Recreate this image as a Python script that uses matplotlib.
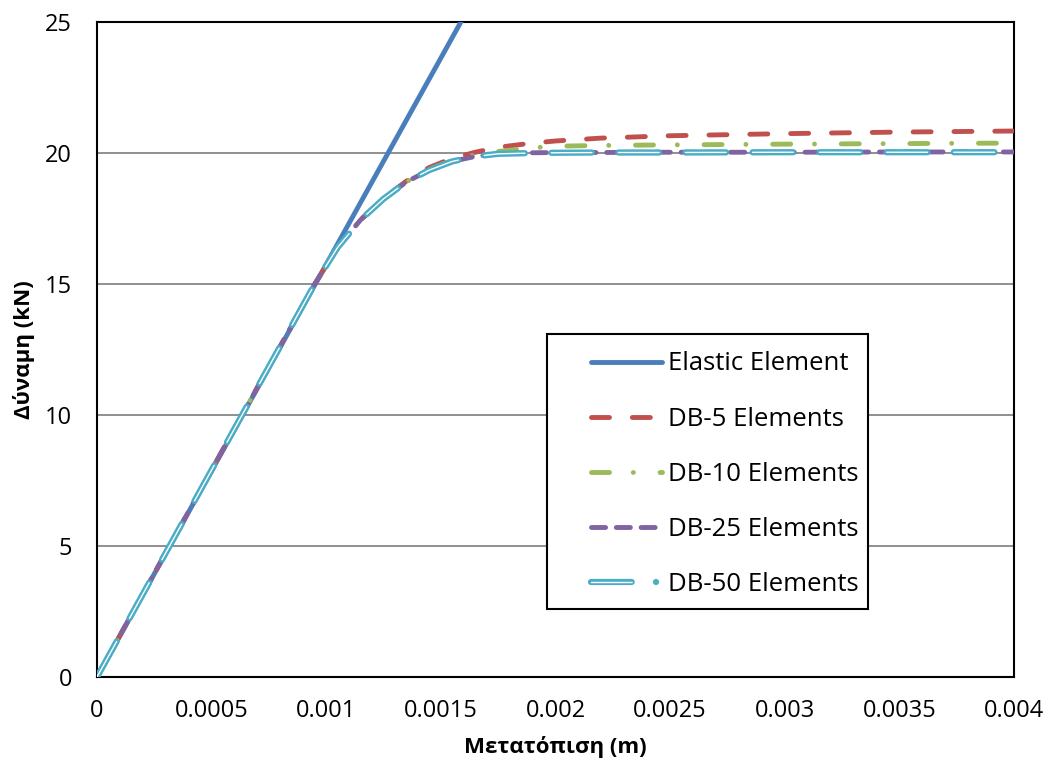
import numpy as np
import matplotlib
matplotlib.use("Agg")
import matplotlib.pyplot as plt
from matplotlib.lines import Line2D
from matplotlib.patches import Rectangle
from matplotlib.legend_handler import HandlerTuple

plt.rcParams['font.family'] = ['Open Sans', 'DejaVu Sans']

# displacement (m) and force (kN)
x_elastic = [0.0, 0.0016]
f_elastic = [0.0, 25.2]

x_db = [0.0, 0.0003, 0.0006, 0.00095, 0.00105, 0.00115, 0.00125, 0.00135,
        0.00145, 0.00155, 0.00165, 0.00175, 0.0019, 0.002, 0.0022, 0.0025,
        0.003, 0.0035, 0.004]
f_db5 = [0.0, 4.74, 9.48, 15.0, 16.4, 17.45, 18.27, 18.93,
         19.45, 19.8, 20.03, 20.22, 20.38, 20.46, 20.57, 20.66,
         20.74, 20.8, 20.84]
f_db10 = [0.0, 4.74, 9.48, 15.0, 16.4, 17.45, 18.25, 18.9,
          19.38, 19.72, 19.93, 20.06, 20.2, 20.26, 20.29, 20.31,
          20.34, 20.36, 20.38]
f_db25 = [0.0, 4.74, 9.48, 15.0, 16.4, 17.45, 18.25, 18.9,
          19.35, 19.68, 19.87, 19.97, 20.01, 20.02, 20.02, 20.03,
          20.03, 20.04, 20.04]
f_db50 = [0.0, 4.74, 9.48, 15.0, 16.4, 17.45, 18.25, 18.9,
          19.35, 19.68, 19.87, 19.97, 20.0, 20.01, 20.02, 20.02,
          20.03, 20.03, 20.03]

labels = ["Elastic Element", "DB-5 Elements", "DB-10 Elements",
          "DB-25 Elements", "DB-50 Elements"]
x_ticks = [0, 0.0005, 0.001, 0.0015, 0.002, 0.0025, 0.003, 0.0035, 0.004]
y_ticks = [0, 5, 10, 15, 20, 25]

c_blue, c_red, c_green, c_purple, c_cyan = "#4A7EBB", "#C0504D", "#9BBB59", "#8064A2", "#4BACC6"
LW = 3.5
LW50, LW50_in = 4.5, 1.0
on50, off50 = 29.3, 19.0      # points, plot pattern
leg50 = (29.3, 17.5, 0.02, 20.0)  # points, legend pattern (dash + dot)

fig = plt.figure(figsize=(10.45, 7.65), dpi=100)
ax = fig.add_axes([0.0928, 0.115, 0.8775, 0.8562])

for y in y_ticks[1:-1]:
    ax.axhline(y, color="#878787", lw=1.3, zorder=1)

style = dict(lw=LW, dash_capstyle="round", solid_capstyle="round", zorder=3)
h_el, = ax.plot(x_elastic, f_elastic, color=c_blue, **style)
h5, = ax.plot(x_db, f_db5, color=c_red, dashes=(3.7, 4.7), **style)
h10, = ax.plot(x_db, f_db10, color=c_green, dashes=(3.7, 4.9, 0.01, 5.5), **style)
h25, = ax.plot(x_db, f_db25, color=c_purple, dashes=(2.9, 2.2), **style)
ax.plot(x_db, f_db50, color=c_cyan, lw=LW50, dashes=(on50 / LW50, off50 / LW50),
        dash_capstyle="round", zorder=3)
ax.plot(x_db, f_db50, color="white", lw=LW50_in,
        dashes=(on50 / LW50_in, off50 / LW50_in), dash_capstyle="round", zorder=4)

# legend handles for the double line
h50a = Line2D([], [], color=c_cyan, lw=LW50, dash_capstyle="round",
              dashes=[v / LW50 for v in leg50])
h50b = Line2D([], [], color="white", lw=LW50_in, dash_capstyle="round",
              dashes=(leg50[0] / LW50_in, 60 / LW50_in))

ax.set_xlim(0, 0.004)
ax.set_ylim(0, 25)
ax.set_xticks(x_ticks)
ax.set_xticklabels(["{:g}".format(v) for v in x_ticks])
ax.set_yticks(y_ticks)
ax.tick_params(length=0, labelsize=17, colors="black")
ax.tick_params(axis="x", pad=16)
ax.tick_params(axis="y", pad=18)
for s in ax.spines.values():
    s.set_linewidth(1.5)
    s.set_color("black")

ax.set_xlabel("Μετατόπιση (m)", fontsize=16, fontweight="bold", labelpad=9)
ax.set_ylabel("Δύναμη (kN)", fontsize=16, fontweight="bold", labelpad=7)

# legend box drawn separately so the padding matches
ax.add_patch(Rectangle((0.4907, 0.1038), 0.3501, 0.4199, transform=ax.transAxes,
                       facecolor="white", edgecolor="black", lw=1.5, zorder=5))
leg = ax.legend([h_el, h5, h10, h25, (h50a, h50b)], labels,
                handler_map={tuple: HandlerTuple(ndivide=1, pad=0)},
                loc="upper left", bbox_to_anchor=(0.5387, 0.497), frameon=False,
                fontsize=18.5, handlelength=2.76, handletextpad=0.23, labelspacing=1.17,
                borderaxespad=0, borderpad=0)
leg.set_zorder(6)

fig.savefig("out.png", dpi=100)
